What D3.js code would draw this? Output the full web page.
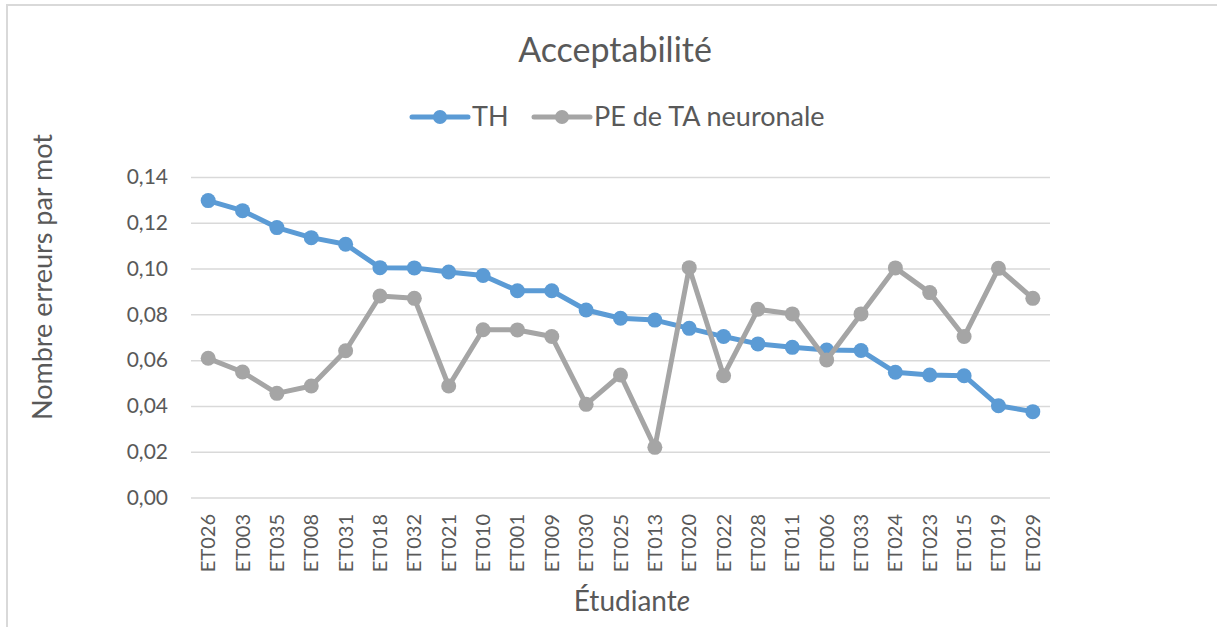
<!DOCTYPE html>
<html>
<head>
<meta charset="utf-8">
<script src="https://cdn.jsdelivr.net/npm/d3@7"></script>
<style>
  body { margin: 0; background: #fff; }
  svg { font-family: Lato, "Open Sans", sans-serif; }
  .grid line { stroke: #d9d9d9; stroke-width: 1.5; }
  .grid .domain { display: none; }
  .tick-label { fill: #595959; }
</style>
</head>
<body>
<svg width="1217" height="627"></svg>
<script>
const students = ['ET026', 'ET003', 'ET035', 'ET008', 'ET031', 'ET018', 'ET032', 'ET021', 'ET010',
  'ET001', 'ET009', 'ET030', 'ET025', 'ET013', 'ET020', 'ET022', 'ET028', 'ET011', 'ET006',
  'ET033', 'ET024', 'ET023', 'ET015', 'ET019', 'ET029'];

const th = [0.1297, 0.1253, 0.1179, 0.1135, 0.1106, 0.1004, 0.1003, 0.0985, 0.0970,
  0.0903, 0.0903, 0.0819, 0.0783, 0.0775, 0.0739, 0.0703, 0.0671, 0.0656, 0.0644,
  0.0642, 0.0547, 0.0535, 0.0532, 0.0401, 0.0375];

const pe = [0.0608, 0.0548, 0.0455, 0.0487, 0.0641, 0.0880, 0.0870, 0.0487, 0.0733,
  0.0732, 0.0703, 0.0407, 0.0535, 0.0219, 0.1004, 0.0532, 0.0822, 0.0802, 0.0601,
  0.0802, 0.1003, 0.0895, 0.0703, 0.1001, 0.0870];

const yTicks = [0, 0.02, 0.04, 0.06, 0.08, 0.10, 0.12, 0.14];

const series = [
  {name: 'TH', values: th, color: '#5b9bd5'},
  {name: 'PE de TA neuronale', values: pe, color: '#a5a5a5'}
];

const svg = d3.select('svg');
const textColor = '#595959';

// outer frame of the chart object
svg.append('path')
    .attr('d', 'M7,640 V5 H1230')
    .attr('fill', 'none')
    .attr('stroke', '#d9d9d9')
    .attr('stroke-width', 2);

const x = d3.scalePoint().domain(students).range([191, 1050]).padding(0.5);
const y = d3.scaleLinear().domain([0, 0.14]).range([497.5, 177]);

const frFormat = d3.formatLocale({decimal: ',', thousands: ' ', grouping: [3], currency: ['', '€']}).format('.2f');

// gridlines
svg.append('g')
    .attr('class', 'grid')
    .attr('transform', 'translate(191,0)')
    .call(d3.axisLeft(y).tickValues(yTicks).tickSize(-859).tickFormat(''));

// y tick labels
svg.append('g').selectAll('text').data(yTicks)
  .enter().append('text')
    .attr('class', 'tick-label')
    .attr('x', 168)
    .attr('y', d => y(d))
    .attr('dy', '0.35em')
    .attr('text-anchor', 'end')
    .attr('font-size', 21)
    .text(frFormat);

// x tick labels (rotated)
svg.append('g').selectAll('text').data(students)
  .enter().append('text')
    .attr('class', 'tick-label')
    .attr('transform', d => `translate(${x(d)},514) rotate(-90)`)
    .attr('dy', '0.35em')
    .attr('text-anchor', 'end')
    .attr('font-size', 20)
    .text(d => d);

const line = d3.line()
    .x((d, i) => x(students[i]))
    .y(d => y(d));

const sg = svg.append('g').selectAll('g').data(series)
  .enter().append('g');

sg.append('path')
    .attr('d', d => line(d.values))
    .attr('fill', 'none')
    .attr('stroke', d => d.color)
    .attr('stroke-width', 5)
    .attr('stroke-linejoin', 'round');

sg.each(function(s) {
  d3.select(this).selectAll('circle').data(s.values)
    .enter().append('circle')
      .attr('cx', (d, i) => x(students[i]))
      .attr('cy', d => y(d))
      .attr('r', 7.5)
      .attr('fill', s.color);
});

// title
svg.append('text')
    .attr('x', 615)
    .attr('y', 62)
    .attr('text-anchor', 'middle')
    .attr('font-size', 34)
    .attr('fill', textColor)
    .text('Acceptabilité');

// legend
const legendX = [412, 534];
const legend = svg.append('g').selectAll('g').data(series)
  .enter().append('g')
    .attr('transform', (d, i) => `translate(${legendX[i]},117)`);

legend.append('line')
    .attr('x1', 0).attr('x2', 56)
    .attr('stroke', d => d.color)
    .attr('stroke-width', 5)
    .attr('stroke-linecap', 'round');

legend.append('circle')
    .attr('cx', 28)
    .attr('r', 7)
    .attr('fill', d => d.color);

legend.append('text')
    .attr('x', 60)
    .attr('dy', '0.35em')
    .attr('font-size', 27)
    .attr('fill', textColor)
    .text(d => d.name);

// axis titles
svg.append('text')
    .attr('transform', 'translate(43,277) rotate(-90)')
    .attr('dy', '0.35em')
    .attr('text-anchor', 'middle')
    .attr('font-size', 27)
    .attr('fill', textColor)
    .text('Nombre erreurs par mot');

const xt = svg.append('text')
    .attr('x', 632)
    .attr('y', 611)
    .attr('text-anchor', 'middle')
    .attr('font-size', 28)
    .attr('fill', textColor);
xt.append('tspan').text('Étudiant');
xt.append('tspan').attr('font-style', 'italic').text('e');
</script>
</body>
</html>
